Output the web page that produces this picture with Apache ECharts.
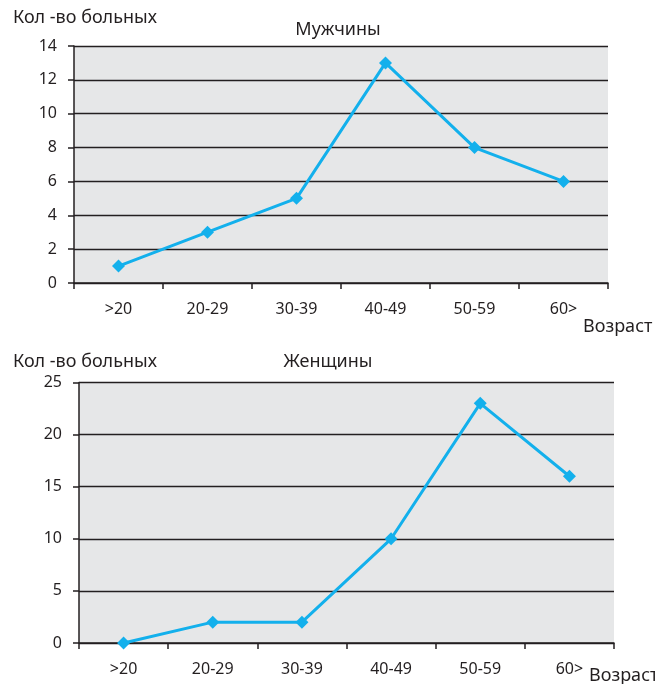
<!DOCTYPE html>
<html>
<head>
<meta charset="utf-8">
<script src="https://cdn.jsdelivr.net/npm/echarts@6/dist/echarts.min.js"></script>
<style>
  html, body { margin: 0; padding: 0; background: #fff; }
  #chart { width: 655px; height: 684px; }
</style>
</head>
<body>
<div id="chart"></div>
<script>
// Age groups shared by both panels
const ageGroups = ['>20', '20-29', '30-39', '40-49', '50-59', '60>'];
// Number of patients per age group
const menCounts = [1, 3, 5, 13, 8, 6];
const womenCounts = [0, 2, 2, 10, 23, 16];

const FONT = 'Noto Sans';
const LINE_COLOR = '#13b0ec';
const INK = '#231f20';

function valueAxis(gridIndex, max, interval) {
  return {
    type: 'value', gridIndex, min: 0, max, interval,
    axisLine: { show: true, lineStyle: { color: INK, width: 1.5 } },
    axisTick: { show: true, length: 6, lineStyle: { color: INK, width: 1.5 } },
    axisLabel: { color: INK, fontFamily: FONT, fontSize: 16, margin: 17 },
    splitLine: { show: true, lineStyle: { color: INK, width: 1.3 } }
  };
}

function categoryAxis(gridIndex) {
  return {
    type: 'category', gridIndex, data: ageGroups, boundaryGap: true,
    axisLine: { show: true, lineStyle: { color: INK, width: 1.5 } },
    axisTick: { show: true, length: 6, alignWithLabel: false, lineStyle: { color: INK, width: 1.5 } },
    axisLabel: { color: INK, fontFamily: FONT, fontSize: 16, margin: 18 }
  };
}

function lineSeries(idx, data) {
  return {
    type: 'line', xAxisIndex: idx, yAxisIndex: idx, data,
    symbol: 'diamond', symbolSize: 13,
    lineStyle: { color: LINE_COLOR, width: 3 },
    itemStyle: { color: LINE_COLOR },
    z: 5
  };
}

const textStyle = { color: INK, fontFamily: FONT, fontSize: 18, fontWeight: 'normal' };

const chart = echarts.init(document.getElementById('chart'), null, { renderer: 'canvas' });
chart.setOption({
  animation: false,
  backgroundColor: '#fff',
  title: [
    { text: 'Кол -во больных', left: 8, top: 4, textStyle },
    { text: 'Мужчины', left: 333, top: 16, textAlign: 'center', textStyle },
    { text: 'Возраст', left: 578, top: 313, textStyle },
    { text: 'Кол -во больных', left: 8, top: 348, textStyle },
    { text: 'Женщины', left: 323, top: 348, textAlign: 'center', textStyle },
    { text: 'Возраст', left: 584, top: 662, textStyle }
  ],
  grid: [
    { left: 74, right: 47, top: 46, height: 237, show: true, backgroundColor: '#e6e7e8', borderWidth: 0 },
    { left: 79, right: 41, top: 382.5, height: 260.5, show: true, backgroundColor: '#e6e7e8', borderWidth: 0 }
  ],
  xAxis: [categoryAxis(0), categoryAxis(1)],
  yAxis: [valueAxis(0, 14, 2), valueAxis(1, 25, 5)],
  series: [lineSeries(0, menCounts), lineSeries(1, womenCounts)]
});
</script>
</body>
</html>
